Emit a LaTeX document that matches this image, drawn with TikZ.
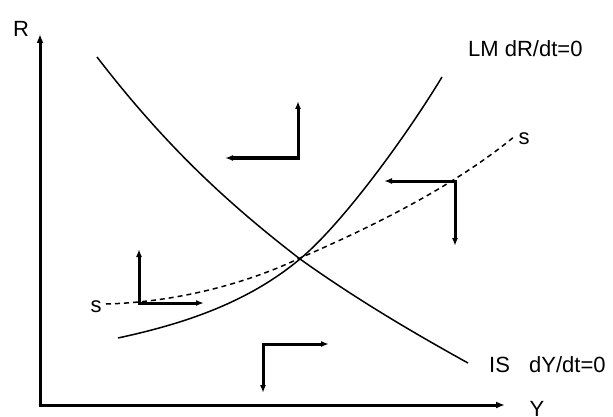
\documentclass[tikz,border=0pt]{standalone}
\usepackage{fontspec}
\setmainfont{Liberation Sans}
\usetikzlibrary{arrows.meta}
\begin{document}
\begin{tikzpicture}[x=1pt,y=-1pt,
  lbl/.style={inner sep=0pt,font=\fontsize{22}{24}\selectfont},
  axis/.style={line width=3pt,-{Latex[length=9pt,width=7pt]}},
  curve/.style={line width=1.5pt},
  dyn/.style={line width=3pt,-{Latex[length=8pt,width=6pt]}},
  sscurve/.style={line width=1.5pt,dash pattern=on 5pt off 4pt}]
\useasboundingbox (0,0) rectangle (613,417);
% axes
\coordinate (O) at (40,405);
\coordinate (Rtop) at (40,34);
\coordinate (Yend) at (505,405);
\draw[axis] (O) -- (Rtop);
\draw[axis] (38.5,405) -- (Yend);
\node[lbl,anchor=base] (R) at (21,37) {R};
\node[lbl,anchor=base] (Y) at (537,416) {Y};
% equilibrium point
\coordinate (E) at (300,259);
% IS curve
\draw[curve] (97,57) .. controls (167,148) and (230,205) .. (E)
             .. controls (356,299) and (412,332) .. (468,363);
% LM curve
\draw[curve] (118,338) .. controls (178,325) and (245,305) .. (E)
             .. controls (342,224) and (405,138) .. (442,77);
% SS dashed
\draw[sscurve] (106,304) .. controls (180,302) and (250,282) .. (300,258)
               .. controls (360,232) and (450,190) .. (515,136);
% labels
\node[lbl,anchor=base west] (LM) at (468,57) {LM dR/dt=0};
\node[lbl,anchor=base west] (IS) at (489,372) {IS};
\node[lbl,anchor=base west] (dY) at (529,372) {dY/dt=0};
\node[lbl,anchor=base] (s1) at (96,312) {s};
\node[lbl,anchor=base] (s2) at (524,145) {s};
% dynamics arrows
\coordinate (c1) at (298,158);
\coordinate (c1u) at (298,101);
\coordinate (c1l) at (225,158);
\draw[dyn] (c1) -- (c1u);
\draw[dyn] (299.5,158) -- (c1l);
\coordinate (c2) at (455,181);
\coordinate (c2l) at (384,181);
\coordinate (c2d) at (455,246);
\draw[dyn] (456.5,181) -- (c2l);
\draw[dyn] (c2) -- (c2d);
\coordinate (c3) at (139,303);
\coordinate (c3u) at (139,249);
\coordinate (c3r) at (204,303);
\draw[dyn] (c3) -- (c3u);
\draw[dyn] (137.5,303) -- (c3r);
\coordinate (c4) at (263,344);
\coordinate (c4r) at (329,344);
\coordinate (c4d) at (263,393);
\draw[dyn] (261.5,344) -- (c4r);
\draw[dyn] (c4) -- (c4d);
\end{tikzpicture}
\end{document}
